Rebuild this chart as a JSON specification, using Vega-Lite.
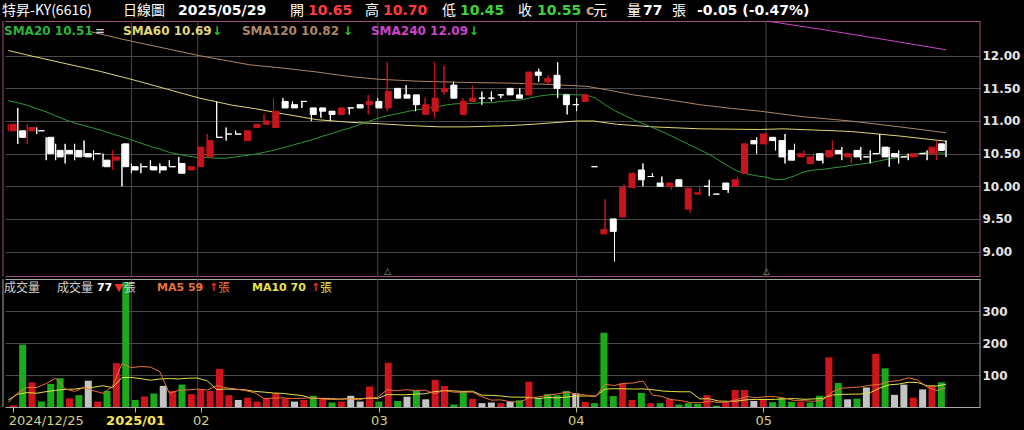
{
"$schema": "https://vega.github.io/schema/vega-lite/v6.json",
"width": 975, "height": 407,
"autosize": "none",
"padding": {"left": 5, "top": 0, "right": 44, "bottom": 23},
"background": "#000000",
"config": {"view": {"stroke": null}},
"datasets": {
"k": [
{"i":0,"o":10.85,"h":10.95,"l":10.85,"c":10.95,"v":5,"vd":"u","s20":11.31,"m5":14,"m10":22},
{"i":1,"o":10.85,"h":11.2,"l":10.65,"c":10.75,"v":195,"vd":"d","s20":11.28,"m5":45,"m10":40},
{"i":2,"o":10.85,"h":10.95,"l":10.65,"c":10.9,"v":77,"vd":"u","s20":11.24,"m5":61,"m10":45},
{"i":3,"o":10.85,"h":10.9,"l":10.8,"c":10.85,"v":17,"vd":"d","s20":11.19,"m5":61,"m10":43},
{"i":4,"o":10.75,"h":10.75,"l":10.4,"c":10.5,"v":72,"vd":"d","s20":11.14,"m5":73.2,"m10":48},
{"i":5,"o":10.55,"h":10.65,"l":10.4,"c":10.45,"v":90,"vd":"d","s20":11.08,"m5":90.2,"m10":52},
{"i":6,"o":10.55,"h":10.65,"l":10.35,"c":10.5,"v":27,"vd":"u","s20":11.02,"m5":56.6,"m10":55},
{"i":7,"o":10.55,"h":10.65,"l":10.4,"c":10.45,"v":37,"vd":"d","s20":10.97,"m5":48.6,"m10":56},
{"i":8,"o":10.5,"h":10.7,"l":10.45,"c":10.45,"v":82,"vd":"f","s20":10.93,"m5":61.6,"m10":60},
{"i":9,"o":10.5,"h":10.55,"l":10.4,"c":10.5,"v":17,"vd":"u","s20":10.89,"m5":50.6,"m10":61.9},
{"i":10,"o":10.4,"h":10.5,"l":10.3,"c":10.3,"v":50,"vd":"d","s20":10.85,"m5":42.6,"m10":66.4},
{"i":11,"o":10.4,"h":10.55,"l":10.25,"c":10.45,"v":137,"vd":"u","s20":10.8,"m5":64.6,"m10":60.6},
{"i":12,"o":10.65,"h":10.65,"l":10.0,"c":10.3,"v":390,"vd":"d","s20":10.76,"m5":135.2,"m10":91.9},
{"i":13,"o":10.3,"h":10.35,"l":10.2,"c":10.25,"v":22,"vd":"d","s20":10.71,"m5":123.2,"m10":92.4},
{"i":14,"o":10.3,"h":10.35,"l":10.2,"c":10.3,"v":33,"vd":"u","s20":10.66,"m5":126.4,"m10":88.5},
{"i":15,"o":10.3,"h":10.4,"l":10.25,"c":10.25,"v":42,"vd":"d","s20":10.61,"m5":124.8,"m10":83.7},
{"i":16,"o":10.3,"h":10.35,"l":10.2,"c":10.25,"v":66,"vd":"f","s20":10.57,"m5":110.6,"m10":87.6},
{"i":17,"o":10.3,"h":10.4,"l":10.3,"c":10.3,"v":50,"vd":"u","s20":10.52,"m5":42.6,"m10":88.9},
{"i":18,"o":10.35,"h":10.45,"l":10.2,"c":10.2,"v":70,"vd":"d","s20":10.49,"m5":52.2,"m10":87.7},
{"i":19,"o":10.25,"h":10.3,"l":10.25,"c":10.3,"v":40,"vd":"u","s20":10.46,"m5":53.6,"m10":90},
{"i":20,"o":10.3,"h":10.6,"l":10.3,"c":10.6,"v":54,"vd":"u","s20":10.44,"m5":56,"m10":90.4},
{"i":21,"o":10.45,"h":10.8,"l":10.45,"c":10.7,"v":50,"vd":"u","s20":10.44,"m5":52.8,"m10":81.7},
{"i":22,"o":10.75,"h":11.3,"l":10.75,"c":10.75,"v":119,"vd":"u","s20":10.43,"m5":66.6,"m10":54.6},
{"i":23,"o":10.8,"h":10.9,"l":10.7,"c":10.8,"v":37,"vd":"u","s20":10.43,"m5":60,"m10":56.1},
{"i":24,"o":10.8,"h":10.85,"l":10.8,"c":10.8,"v":22,"vd":"f","s20":10.45,"m5":56.4,"m10":55},
{"i":25,"o":10.7,"h":10.85,"l":10.7,"c":10.85,"v":29,"vd":"u","s20":10.47,"m5":51.4,"m10":53.7},
{"i":26,"o":10.9,"h":10.95,"l":10.9,"c":10.95,"v":17,"vd":"u","s20":10.49,"m5":44.8,"m10":48.8},
{"i":27,"o":10.95,"h":11.1,"l":10.95,"c":11.0,"v":27,"vd":"u","s20":10.52,"m5":26.4,"m10":46.5},
{"i":28,"o":10.9,"h":11.35,"l":10.9,"c":11.15,"v":43,"vd":"u","s20":10.55,"m5":27.6,"m10":43.8},
{"i":29,"o":11.3,"h":11.35,"l":11.2,"c":11.2,"v":27,"vd":"u","s20":10.59,"m5":28.6,"m10":42.5},
{"i":30,"o":11.25,"h":11.3,"l":11.2,"c":11.2,"v":17,"vd":"f","s20":10.63,"m5":26.2,"m10":38.8},
{"i":31,"o":11.3,"h":11.3,"l":11.2,"c":11.3,"v":22,"vd":"u","s20":10.67,"m5":27.2,"m10":36},
{"i":32,"o":11.2,"h":11.2,"l":11.0,"c":11.1,"v":35,"vd":"d","s20":10.71,"m5":28.8,"m10":27.6},
{"i":33,"o":11.2,"h":11.2,"l":11.05,"c":11.15,"v":29,"vd":"u","s20":10.76,"m5":26,"m10":26.8},
{"i":34,"o":11.15,"h":11.15,"l":11.0,"c":11.1,"v":14,"vd":"d","s20":10.8,"m5":23.4,"m10":26},
{"i":35,"o":11.1,"h":11.2,"l":11.1,"c":11.2,"v":17,"vd":"u","s20":10.85,"m5":23.4,"m10":24.8},
{"i":36,"o":11.2,"h":11.2,"l":11.1,"c":11.2,"v":35,"vd":"f","s20":10.89,"m5":26,"m10":26.6},
{"i":37,"o":11.25,"h":11.25,"l":11.2,"c":11.2,"v":17,"vd":"f","s20":10.94,"m5":22.4,"m10":25.6},
{"i":38,"o":11.25,"h":11.4,"l":11.1,"c":11.3,"v":64,"vd":"u","s20":10.99,"m5":29.4,"m10":27.7},
{"i":39,"o":11.3,"h":11.35,"l":11.2,"c":11.2,"v":17,"vd":"d","s20":11.04,"m5":30,"m10":26.7},
{"i":40,"o":11.2,"h":11.9,"l":11.15,"c":11.45,"v":138,"vd":"u","s20":11.08,"m5":54.2,"m10":38.8},
{"i":41,"o":11.5,"h":11.5,"l":11.35,"c":11.35,"v":19,"vd":"d","s20":11.11,"m5":51,"m10":38.5},
{"i":42,"o":11.4,"h":11.55,"l":11.35,"c":11.35,"v":32,"vd":"f","s20":11.14,"m5":54,"m10":38.2},
{"i":43,"o":11.4,"h":11.4,"l":11.15,"c":11.25,"v":50,"vd":"d","s20":11.17,"m5":51.2,"m10":40.3},
{"i":44,"o":11.1,"h":11.35,"l":11.1,"c":11.25,"v":24,"vd":"f","s20":11.19,"m5":52.6,"m10":41.3},
{"i":45,"o":11.15,"h":11.9,"l":11.05,"c":11.35,"v":85,"vd":"u","s20":11.21,"m5":42,"m10":48.1},
{"i":46,"o":11.45,"h":11.85,"l":11.4,"c":11.5,"v":66,"vd":"u","s20":11.24,"m5":51.4,"m10":51.2},
{"i":47,"o":11.55,"h":11.6,"l":11.35,"c":11.35,"v":8,"vd":"d","s20":11.26,"m5":46.6,"m10":50.3},
{"i":48,"o":11.1,"h":11.35,"l":11.1,"c":11.3,"v":47,"vd":"d","s20":11.27,"m5":46,"m10":48.6},
{"i":49,"o":11.3,"h":11.55,"l":11.3,"c":11.35,"v":26,"vd":"u","s20":11.27,"m5":46.4,"m10":49.5},
{"i":50,"o":11.35,"h":11.45,"l":11.25,"c":11.35,"v":12,"vd":"f","s20":11.28,"m5":31.8,"m10":36.9},
{"i":51,"o":11.35,"h":11.45,"l":11.3,"c":11.35,"v":14,"vd":"f","s20":11.28,"m5":21.4,"m10":36.4},
{"i":52,"o":11.4,"h":11.4,"l":11.35,"c":11.4,"v":12,"vd":"u","s20":11.3,"m5":22.2,"m10":34.4},
{"i":53,"o":11.5,"h":11.5,"l":11.4,"c":11.4,"v":17,"vd":"f","s20":11.31,"m5":16.2,"m10":31.1},
{"i":54,"o":11.4,"h":11.5,"l":11.35,"c":11.35,"v":21,"vd":"d","s20":11.32,"m5":15.2,"m10":30.8},
{"i":55,"o":11.4,"h":11.75,"l":11.4,"c":11.75,"v":79,"vd":"u","s20":11.35,"m5":28.6,"m10":30.2},
{"i":56,"o":11.75,"h":11.8,"l":11.6,"c":11.7,"v":29,"vd":"d","s20":11.38,"m5":31.6,"m10":26.5},
{"i":57,"o":11.6,"h":11.7,"l":11.55,"c":11.65,"v":40,"vd":"d","s20":11.4,"m5":37.2,"m10":29.7},
{"i":58,"o":11.7,"h":11.9,"l":11.35,"c":11.5,"v":37,"vd":"d","s20":11.41,"m5":41.2,"m10":28.7},
{"i":59,"o":11.4,"h":11.4,"l":11.1,"c":11.25,"v":50,"vd":"d","s20":11.41,"m5":47,"m10":31.1},
{"i":60,"o":11.25,"h":11.35,"l":11.15,"c":11.25,"v":43,"vd":"f","s20":11.4,"m5":39.8,"m10":34.2},
{"i":61,"o":11.3,"h":11.4,"l":11.3,"c":11.4,"v":16,"vd":"u","s20":11.4,"m5":37.2,"m10":34.4},
{"i":62,"o":10.3,"h":10.3,"l":10.3,"c":10.3,"v":12,"vd":"d","s20":11.35,"m5":31.6,"m10":34.4},
{"i":63,"o":9.27,"h":9.8,"l":9.27,"c":9.34,"v":232,"vd":"d","s20":11.25,"m5":70.6,"m10":55.9},
{"i":64,"o":9.5,"h":9.5,"l":8.85,"c":9.31,"v":34,"vd":"d","s20":11.16,"m5":67.4,"m10":57.2},
{"i":65,"o":9.53,"h":10.03,"l":9.53,"c":9.98,"v":75,"vd":"u","s20":11.09,"m5":73.8,"m10":56.8},
{"i":66,"o":9.98,"h":10.21,"l":9.98,"c":10.2,"v":22,"vd":"u","s20":11.02,"m5":75,"m10":56.1},
{"i":67,"o":10.25,"h":10.35,"l":10.0,"c":10.1,"v":44,"vd":"d","s20":10.96,"m5":81.4,"m10":56.5},
{"i":68,"o":10.15,"h":10.2,"l":10.15,"c":10.15,"v":12,"vd":"u","s20":10.9,"m5":37.4,"m10":54},
{"i":69,"o":10.05,"h":10.15,"l":10.0,"c":10.0,"v":12,"vd":"d","s20":10.84,"m5":33,"m10":50.2},
{"i":70,"o":10.0,"h":10.05,"l":9.95,"c":10.05,"v":25,"vd":"u","s20":10.77,"m5":23,"m10":48.4},
{"i":71,"o":10.1,"h":10.1,"l":10.0,"c":10.0,"v":8,"vd":"d","s20":10.7,"m5":20.2,"m10":47.6},
{"i":72,"o":9.65,"h":9.97,"l":9.6,"c":9.97,"v":12,"vd":"d","s20":10.63,"m5":13.8,"m10":47.6},
{"i":73,"o":9.88,"h":9.98,"l":9.88,"c":9.9,"v":10,"vd":"d","s20":10.56,"m5":13.4,"m10":25.4},
{"i":74,"o":10.0,"h":10.1,"l":9.85,"c":10.0,"v":37,"vd":"u","s20":10.49,"m5":18.4,"m10":25.7},
{"i":75,"o":9.88,"h":9.88,"l":9.88,"c":9.88,"v":4,"vd":"d","s20":10.4,"m5":14.2,"m10":18.6},
{"i":76,"o":10.05,"h":10.05,"l":9.9,"c":9.95,"v":15,"vd":"u","s20":10.31,"m5":15.6,"m10":17.9},
{"i":77,"o":10.0,"h":10.15,"l":10.0,"c":10.1,"v":53,"vd":"u","s20":10.23,"m5":23.8,"m10":18.8},
{"i":78,"o":10.2,"h":10.65,"l":10.2,"c":10.65,"v":53,"vd":"u","s20":10.19,"m5":32.4,"m10":22.9},
{"i":79,"o":10.7,"h":10.75,"l":10.5,"c":10.65,"v":19,"vd":"f","s20":10.16,"m5":28.8,"m10":23.6},
{"i":80,"o":10.65,"h":10.82,"l":10.65,"c":10.8,"v":22,"vd":"u","s20":10.14,"m5":32.4,"m10":23.3},
{"i":81,"o":10.75,"h":10.75,"l":10.55,"c":10.7,"v":15,"vd":"d","s20":10.1,"m5":32.4,"m10":24},
{"i":82,"o":10.7,"h":10.8,"l":10.35,"c":10.45,"v":28,"vd":"d","s20":10.11,"m5":27.4,"m10":25.6},
{"i":83,"o":10.55,"h":10.65,"l":10.4,"c":10.4,"v":16,"vd":"d","s20":10.16,"m5":20,"m10":26.2},
{"i":84,"o":10.45,"h":10.55,"l":10.45,"c":10.5,"v":16,"vd":"u","s20":10.22,"m5":19.4,"m10":24.1},
{"i":85,"o":10.35,"h":10.5,"l":10.35,"c":10.45,"v":14,"vd":"d","s20":10.25,"m5":17.8,"m10":25.1},
{"i":86,"o":10.5,"h":10.5,"l":10.35,"c":10.4,"v":35,"vd":"d","s20":10.26,"m5":21.8,"m10":27.1},
{"i":87,"o":10.45,"h":10.7,"l":10.45,"c":10.55,"v":155,"vd":"u","s20":10.28,"m5":47.2,"m10":37.3},
{"i":88,"o":10.55,"h":10.6,"l":10.4,"c":10.5,"v":75,"vd":"d","s20":10.3,"m5":59,"m10":39.5},
{"i":89,"o":10.45,"h":10.5,"l":10.35,"c":10.5,"v":24,"vd":"f","s20":10.32,"m5":60.6,"m10":40},
{"i":90,"o":10.55,"h":10.6,"l":10.4,"c":10.45,"v":26,"vd":"d","s20":10.34,"m5":63,"m10":40.4},
{"i":91,"o":10.45,"h":10.55,"l":10.35,"c":10.45,"v":61,"vd":"f","s20":10.36,"m5":68.2,"m10":45},
{"i":92,"o":10.5,"h":10.8,"l":10.5,"c":10.5,"v":166,"vd":"u","s20":10.39,"m5":70.4,"m10":58.8},
{"i":93,"o":10.6,"h":10.6,"l":10.3,"c":10.45,"v":121,"vd":"d","s20":10.42,"m5":79.6,"m10":69.3},
{"i":94,"o":10.5,"h":10.55,"l":10.35,"c":10.45,"v":38,"vd":"f","s20":10.44,"m5":82.4,"m10":71.5},
{"i":95,"o":10.45,"h":10.5,"l":10.4,"c":10.45,"v":70,"vd":"f","s20":10.47,"m5":91.2,"m10":77.1},
{"i":96,"o":10.45,"h":10.5,"l":10.45,"c":10.5,"v":29,"vd":"u","s20":10.5,"m5":84.8,"m10":76.5},
{"i":97,"o":10.5,"h":10.55,"l":10.4,"c":10.5,"v":55,"vd":"f","s20":10.52,"m5":62.6,"m10":66.5},
{"i":98,"o":10.5,"h":10.7,"l":10.4,"c":10.6,"v":66,"vd":"u","s20":10.51,"m5":51.6,"m10":65.6},
{"i":99,"o":10.65,"h":10.7,"l":10.45,"c":10.55,"v":77,"vd":"d","s20":10.51,"m5":59.4,"m10":70.9}
],
"ma": [
{"i":0,"k":"s60","v":12.08},{"i":2.6,"k":"s60","v":11.99},{"i":9.7,"k":"s60","v":11.76},{"i":13.2,"k":"s60","v":11.63},{"i":16.7,"k":"s60","v":11.49},{"i":20.2,"k":"s60","v":11.35},{"i":23.7,"k":"s60","v":11.24},{"i":26,"k":"s60","v":11.19},{"i":29,"k":"s60","v":11.11},{"i":32.6,"k":"s60","v":11.02},{"i":36.1,"k":"s60","v":10.98},{"i":39,"k":"s60","v":10.96},{"i":42.4,"k":"s60","v":10.93},{"i":45.6,"k":"s60","v":10.91},{"i":48.4,"k":"s60","v":10.91},{"i":53,"k":"s60","v":10.93},{"i":55.4,"k":"s60","v":10.95},{"i":60,"k":"s60","v":11.0},{"i":61.8,"k":"s60","v":11.0},{"i":64.2,"k":"s60","v":10.95},{"i":68.1,"k":"s60","v":10.91},{"i":73,"k":"s60","v":10.88},{"i":79.4,"k":"s60","v":10.87},{"i":81.8,"k":"s60","v":10.88},{"i":88.9,"k":"s60","v":10.84},{"i":94.1,"k":"s60","v":10.77},{"i":99,"k":"s60","v":10.69},
{"i":8.6,"k":"s120","v":12.37},{"i":12.1,"k":"s120","v":12.25},{"i":20.2,"k":"s120","v":12.0},{"i":25.5,"k":"s120","v":11.86},{"i":29,"k":"s120","v":11.81},{"i":32.6,"k":"s120","v":11.75},{"i":36.1,"k":"s120","v":11.68},{"i":39,"k":"s120","v":11.64},{"i":43.1,"k":"s120","v":11.61},{"i":48.4,"k":"s120","v":11.59},{"i":53,"k":"s120","v":11.58},{"i":57.2,"k":"s120","v":11.56},{"i":61.1,"k":"s120","v":11.53},{"i":63.5,"k":"s120","v":11.47},{"i":66,"k":"s120","v":11.4},{"i":69.5,"k":"s120","v":11.33},{"i":73,"k":"s120","v":11.25},{"i":76.5,"k":"s120","v":11.19},{"i":79.4,"k":"s120","v":11.15},{"i":83.6,"k":"s120","v":11.07},{"i":88.9,"k":"s120","v":11.0},{"i":94.1,"k":"s120","v":10.91},{"i":99,"k":"s120","v":10.82},
{"i":80.1,"k":"s240","v":12.53},{"i":86.4,"k":"s240","v":12.39},{"i":92.8,"k":"s240","v":12.24},{"i":99,"k":"s240","v":12.09}
],
"mo": [{"i":13},{"i":20},{"i":39},{"i":60},{"i":80}],
"ev": [{"i":40},{"i":80}],
"txt": [
{"t":"特昇-KY(6616)","i":-0.66,"k":"w","grp":"hc"},
{"t":"日線圖","i":12.11,"k":"w","grp":"hc"},
{"t":"2025/05/29","i":17.92,"k":"w","grp":"hb"},
{"t":"開","i":29.74,"k":"w","grp":"hc"},
{"t":"10.65","i":31.64,"k":"r","grp":"hb"},
{"t":"高","i":37.66,"k":"w","grp":"hc"},
{"t":"10.70","i":39.56,"k":"r","grp":"hb"},
{"t":"低","i":45.79,"k":"w","grp":"hc"},
{"t":"10.45","i":47.69,"k":"g","grp":"hb"},
{"t":"收","i":53.81,"k":"w","grp":"hc"},
{"t":"10.55","i":55.82,"k":"g","grp":"hb"},
{"t":"c","i":60.99,"k":"c","grp":"hb"},
{"t":"元","i":61.73,"k":"w","grp":"hc"},
{"t":"量","i":65.32,"k":"w","grp":"hc"},
{"t":"77","i":67.01,"k":"w","grp":"hb"},
{"t":"張","i":70.07,"k":"w","grp":"hc"},
{"t":"-0.05 (-0.47%)","i":72.71,"k":"w","grp":"hb"},
{"t":"SMA20 10.51","i":-0.45,"k":"s20","grp":"lb"},
{"t":"=","i":9.15,"k":"gy","grp":"lb"},
{"t":"SMA60 10.69","i":12.11,"k":"s60","grp":"lb"},
{"t":"↓","i":21.5,"k":"ag","grp":"lb"},
{"t":"SMA120 10.82","i":24.67,"k":"s120","grp":"lb"},
{"t":"↓","i":35.3,"k":"ag","grp":"lb"},
{"t":"SMA240 12.09","i":38.29,"k":"s240","grp":"lb"},
{"t":"↓","i":48.6,"k":"ag","grp":"lb"},
{"t":"成交量","i":-0.45,"k":"gy","grp":"vc"},
{"t":"成交量","i":5.14,"k":"gy","grp":"vc"},
{"t":"77","i":9.36,"k":"w","grp":"vb"},
{"t":"▼","i":11.2,"k":"ar","grp":"vb"},
{"t":"張","i":12.2,"k":"gy","grp":"vc"},
{"t":"MA5 59","i":15.7,"k":"ma5","grp":"vb"},
{"t":"↑","i":21.2,"k":"ar","grp":"vb"},
{"t":"張","i":22.14,"k":"ma5","grp":"vc"},
{"t":"MA10 70","i":25.73,"k":"ma10","grp":"vb"},
{"t":"↑","i":31.96,"k":"ar","grp":"vb"},
{"t":"張","i":32.9,"k":"ma10","grp":"vc"}
]
},
"encoding": {
"x": {"field": "i", "type": "quantitative", "scale": {"domain": [-0.348, 102.587], "nice": false, "zero": false}, "axis": null}
},
"layer": [
 {"data": {"name": "k"}, "mark": {"type": "rule", "strokeWidth": 1},
  "encoding": {"y": {"field": "l", "type": "quantitative", "scale": {"domain": [6.62, 12.853], "nice": false, "zero": false},
    "axis": {"orient": "right", "values": [8.619, 9, 9.5, 10, 10.5, 11, 11.5, 12, 12.531], "title": null, "grid": true,
     "gridColor": {"condition": {"test": "datum.value < 8.7 || datum.value > 12.5", "value": "#a0507e"}, "value": "#4a4a4a"},
     "gridWidth": 1, "domain": false, "ticks": false, "labelPadding": 2,
     "labelExpr": "datum.value < 8.7 || datum.value > 12.5 ? '' : format(datum.value, '.2f')",
     "labelFont": "DejaVu Sans", "labelFontSize": 12, "labelFontWeight": "bold", "labelColor": "#e4e4e4", "labelOverlap": false}},
   "y2": {"field": "h"},
   "color": {"condition": {"test": "datum.c > datum.o", "value": "#c8141c"}, "value": "#ffffff"}}},
 {"data": {"name": "k"}, "mark": {"type": "bar", "size": 7},
  "encoding": {
   "x": {"field": "i", "type": "quantitative", "scale": {"domain": [-0.348, 102.587], "nice": false, "zero": false},
    "axis": {"values": [0, 13, 20, 39, 60, 80], "title": null, "grid": false, "domain": false,
     "ticks": true, "tickSize": 5, "tickColor": "#c8c070",
     "labelExpr": "datum.value==0?'2024/12/25':datum.value==13?'2025/01':datum.value==20?'02':datum.value==39?'03':datum.value==60?'04':'05'",
     "labelFont": "DejaVu Sans", "labelFontSize": 13,
     "labelColor": {"condition": {"test": "datum.value==13", "value": "#f2e45a"}, "value": "#d4cf86"},
     "labelFontWeight": {"condition": {"test": "datum.value==13", "value": "bold"}, "value": "normal"},
     "labelAlign": {"condition": {"test": "datum.value==0", "value": "left"}, "value": "center"},
     "labelOffset": {"condition": {"test": "datum.value==0", "value": -5}, "value": 0},
     "labelFlush": false, "labelPadding": 2, "labelOverlap": false}},
   "y": {"field": "v", "type": "quantitative", "scale": {"domain": [0, 1272], "nice": false, "zero": true},
    "axis": {"orient": "right", "values": [0, 100, 200, 300, 400], "title": null, "grid": true,
     "gridColor": {"condition": {"test": "datum.value == 0 || datum.value == 400", "value": "#a8a8a8"}, "value": "#4a4a4a"},
     "gridWidth": 1, "domain": false, "ticks": false, "labelPadding": 2,
     "labelExpr": "datum.value == 0 || datum.value == 400 ? '' : datum.label",
     "labelFont": "DejaVu Sans", "labelFontSize": 12, "labelFontWeight": "bold", "labelColor": "#e4e4e4", "labelOverlap": false}},
   "y2": {"datum": 0},
   "fill": {"condition": [{"test": "datum.vd=='u'", "value": "#d0141c"}, {"test": "datum.vd=='d'", "value": "#1aaa1a"}], "value": "#c4c4c4"}}},
 {"data": {"name": "mo"}, "mark": {"type": "rule", "color": "#4a4a4a", "strokeWidth": 1},
  "encoding": {"y": {"datum": 12.531, "type": "quantitative", "scale": {"domain": [6.62, 12.853], "nice": false, "zero": false}, "axis": null}, "y2": {"datum": 8.619}}},
 {"data": {"name": "mo"}, "mark": {"type": "rule", "color": "#4a4a4a", "strokeWidth": 1},
  "encoding": {"y": {"datum": 400, "type": "quantitative", "scale": {"domain": [0, 1272], "nice": false, "zero": true}, "axis": null}, "y2": {"datum": 0}}},
 {"data": {"name": "ev"}, "transform": [{"filter": "datum.i == 40"}], "mark": {"type": "rule", "color": "#a0507e", "strokeWidth": 1},
  "encoding": {"x": {"datum": -0.56, "type": "quantitative", "scale": {"domain": [-0.348, 102.587], "nice": false, "zero": false}, "axis": null},
   "y": {"datum": 8.619, "type": "quantitative", "scale": {"domain": [6.62, 12.853], "nice": false, "zero": false}, "axis": null}, "y2": {"datum": 12.531}}},
 {"data": {"name": "ev"}, "transform": [{"filter": "datum.i == 40"}], "mark": {"type": "rule", "color": "#a0507e", "strokeWidth": 1},
  "encoding": {"x": {"datum": 102.587, "type": "quantitative", "scale": {"domain": [-0.348, 102.587], "nice": false, "zero": false}, "axis": null},
   "y": {"datum": 8.619, "type": "quantitative", "scale": {"domain": [6.62, 12.853], "nice": false, "zero": false}, "axis": null}, "y2": {"datum": 12.531}}},
 {"data": {"name": "ev"}, "transform": [{"filter": "datum.i == 40"}], "mark": {"type": "rule", "color": "#a8a8a8", "strokeWidth": 1},
  "encoding": {"x": {"datum": -0.56, "type": "quantitative", "scale": {"domain": [-0.348, 102.587], "nice": false, "zero": false}, "axis": null},
   "y": {"datum": 0, "type": "quantitative", "scale": {"domain": [0, 1272], "nice": false, "zero": true}, "axis": null}, "y2": {"datum": 400}}},
 {"data": {"name": "ev"}, "transform": [{"filter": "datum.i == 40"}], "mark": {"type": "rule", "color": "#a8a8a8", "strokeWidth": 1},
  "encoding": {"x": {"datum": 102.587, "type": "quantitative", "scale": {"domain": [-0.348, 102.587], "nice": false, "zero": false}, "axis": null},
   "y": {"datum": 0, "type": "quantitative", "scale": {"domain": [0, 1272], "nice": false, "zero": true}, "axis": null}, "y2": {"datum": 400}}},
 {"data": {"name": "ma"}, "mark": {"type": "line", "strokeWidth": 1},
  "encoding": {"y": {"field": "v", "type": "quantitative", "scale": {"domain": [6.62, 12.853], "nice": false, "zero": false}, "axis": null},
   "color": {"field": "k", "type": "nominal", "legend": null, "scale": {"domain": ["w","r","g","c","gy","s20","s60","s120","s240","ma5","ma10","ag","ar"], "range": ["#ffffff","#ff3a3a","#3cd23c","#c9a36e","#d2d2d2","#2cb43c","#e0d874","#ad8767","#cc44cc","#e8743a","#e6e04a","#22cc22","#ff2a2a"]}}}},
 {"data": {"name": "k"}, "mark": {"type": "line", "strokeWidth": 1, "color": "#2a9a3a"},
  "encoding": {"y": {"field": "s20", "type": "quantitative", "scale": {"domain": [6.62, 12.853], "nice": false, "zero": false}, "axis": null}}},
 {"data": {"name": "k"}, "mark": {"type": "rule", "strokeWidth": 1},
  "encoding": {"y": {"field": "l", "type": "quantitative", "scale": {"domain": [6.62, 12.853], "nice": false, "zero": false}, "axis": null},
   "y2": {"field": "h"},
   "color": {"condition": {"test": "datum.c > datum.o", "value": "#c8141c"}, "value": "#ffffff"}}},
 {"data": {"name": "k"}, "mark": {"type": "bar", "size": 6, "strokeWidth": 1},
  "encoding": {"y": {"field": "o", "type": "quantitative", "scale": {"domain": [6.62, 12.853], "nice": false, "zero": false}, "axis": null},
   "y2": {"field": "c"},
   "fill": {"condition": {"test": "datum.c > datum.o", "value": "#c8141c"}, "value": "#ffffff"},
   "stroke": {"condition": {"test": "datum.c > datum.o", "value": "#c8141c"}, "value": "#ffffff"}}},
 {"data": {"name": "k"}, "mark": {"type": "line", "strokeWidth": 1, "color": "#e6e04a"},
  "encoding": {"y": {"field": "m10", "type": "quantitative", "scale": {"domain": [0, 1272], "nice": false, "zero": true}, "axis": null}}},
 {"data": {"name": "k"}, "mark": {"type": "line", "strokeWidth": 1, "color": "#e8743a"},
  "encoding": {"y": {"field": "m5", "type": "quantitative", "scale": {"domain": [0, 1272], "nice": false, "zero": true}, "axis": null}}},
 {"data": {"name": "ev"}, "mark": {"type": "text", "text": "△", "fontSize": 9, "color": "#86b47c", "baseline": "middle", "align": "center"},
  "encoding": {"y": {"datum": 8.7, "type": "quantitative", "scale": {"domain": [6.62, 12.853], "nice": false, "zero": false}, "axis": null}}},
 {"data": {"name": "txt"}, "transform": [{"filter": "datum.grp=='hc'"}],
  "mark": {"type": "text", "align": "left", "baseline": "middle", "font": "Noto Sans CJK TC", "fontSize": 14},
  "encoding": {"y": {"datum": 12.69, "type": "quantitative", "scale": {"domain": [6.62, 12.853], "nice": false, "zero": false}, "axis": null},
   "text": {"field": "t"}, "color": {"field": "k", "type": "nominal", "legend": null}}},
 {"data": {"name": "txt"}, "transform": [{"filter": "datum.grp=='hb'"}],
  "mark": {"type": "text", "align": "left", "baseline": "middle", "font": "DejaVu Sans", "fontWeight": "bold", "fontSize": 14},
  "encoding": {"y": {"datum": 12.69, "type": "quantitative", "scale": {"domain": [6.62, 12.853], "nice": false, "zero": false}, "axis": null},
   "text": {"field": "t"}, "color": {"field": "k", "type": "nominal", "legend": null}}},
 {"data": {"name": "txt"}, "transform": [{"filter": "datum.grp=='lb'"}],
  "mark": {"type": "text", "align": "left", "baseline": "middle", "font": "DejaVu Sans", "fontWeight": "bold", "fontSize": 12},
  "encoding": {"y": {"datum": 12.38, "type": "quantitative", "scale": {"domain": [6.62, 12.853], "nice": false, "zero": false}, "axis": null},
   "text": {"field": "t"}, "color": {"field": "k", "type": "nominal", "legend": null}}},
 {"data": {"name": "txt"}, "transform": [{"filter": "datum.grp=='vc'"}],
  "mark": {"type": "text", "align": "left", "baseline": "middle", "font": "Noto Sans CJK TC", "fontSize": 12},
  "encoding": {"y": {"datum": 372, "type": "quantitative", "scale": {"domain": [0, 1272], "nice": false, "zero": true}, "axis": null},
   "text": {"field": "t"}, "color": {"field": "k", "type": "nominal", "legend": null}}},
 {"data": {"name": "txt"}, "transform": [{"filter": "datum.grp=='vb'"}],
  "mark": {"type": "text", "align": "left", "baseline": "middle", "font": "DejaVu Sans", "fontWeight": "bold", "fontSize": 11},
  "encoding": {"y": {"datum": 372, "type": "quantitative", "scale": {"domain": [0, 1272], "nice": false, "zero": true}, "axis": null},
   "text": {"field": "t"}, "color": {"field": "k", "type": "nominal", "legend": null}}}
],
"resolve": {"scale": {"x": "independent", "y": "independent"}, "axis": {"x": "independent", "y": "independent"}}
}
